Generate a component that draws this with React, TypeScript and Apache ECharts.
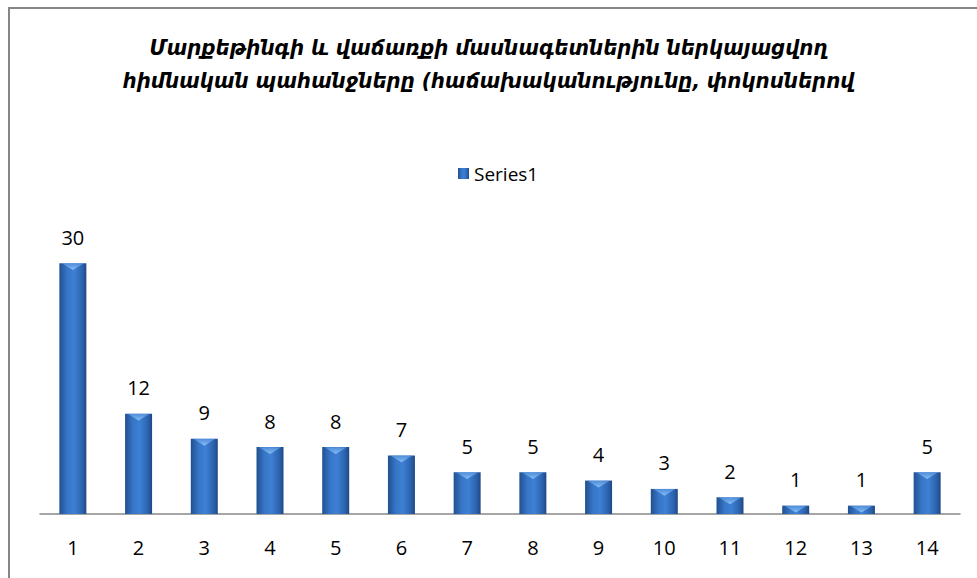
import React, { useEffect, useRef } from "react";
import * as echarts from "echarts";

const categories = ["1", "2", "3", "4", "5", "6", "7", "8", "9", "10", "11", "12", "13", "14"];
const seriesValues = [30, 12, 9, 8, 8, 7, 5, 5, 4, 3, 2, 1, 1, 5];
const seriesName = "Series1";
const titleLines = [
  "Մարքեթինգի և վաճառքի մասնագետներին ներկայացվող",
  "հիմնական պահանջները (հաճախականությունը, փոկոսներով",
];

const barGradient = new echarts.graphic.LinearGradient(0, 0, 1, 0, [
  { offset: 0, color: "#22508f" },
  { offset: 0.3, color: "#3776c8" },
  { offset: 0.55, color: "#3d80d4" },
  { offset: 0.85, color: "#2c62ad" },
  { offset: 1, color: "#1e4884" },
]);

const bevelGradient = new echarts.graphic.LinearGradient(0, 0, 0, 1, [
  { offset: 0, color: "rgba(140,195,245,0.95)" },
  { offset: 1, color: "rgba(90,150,225,0.7)" },
]);

export default function App() {
  const ref = useRef<HTMLDivElement>(null);
  useEffect(() => {
    if (!ref.current) return;
    const chart = echarts.init(ref.current, null, { renderer: "svg" });
    chart.setOption({
      animation: false,
      backgroundColor: "#ffffff",
      graphic: [
        {
          type: "rect",
          shape: { x: 9, y: 8, width: 1000, height: 1000 },
          style: { fill: "none", stroke: "#868686", lineWidth: 2 },
          silent: true,
        },
        {
          type: "text",
          left: "center",
          top: 31,
          style: {
            text: titleLines.join("\n"),
            font: "italic bold 22px 'DejaVu Sans Condensed', 'DejaVu Sans'",
            fill: "#000000",
            textAlign: "center",
            lineHeight: 33,
          },
        },
      ],
      legend: {
        data: [seriesName],
        top: 159,
        left: 453,
        itemWidth: 11,
        itemHeight: 11,
        itemGap: 5,
        icon: "rect",
        textStyle: { fontSize: 19, color: "#000", fontFamily: "'Open Sans', sans-serif" },
      },
      grid: { left: 40, right: 17, top: 213, bottom: 64 },
      xAxis: {
        type: "category",
        data: categories,
        axisLine: { lineStyle: { color: "#888888", width: 1.5 } },
        axisTick: { show: false },
        axisLabel: {
          margin: 23,
          fontSize: 20,
          color: "#000",
          fontFamily: "'Open Sans', sans-serif",
        },
      },
      yAxis: {
        type: "value",
        min: 0,
        max: 36,
        show: false,
        splitLine: { show: false },
      },
      series: [
        {
          name: seriesName,
          type: "bar",
          data: seriesValues,
          barWidth: 27,
          itemStyle: { color: barGradient },
          label: {
            show: true,
            position: "top",
            distance: 16,
            fontSize: 20,
            color: "#000",
            fontFamily: "'Open Sans', sans-serif",
          },
          z: 2,
        },
        {
          name: "bevel",
          type: "pictorialBar",
          data: seriesValues,
          symbol: "triangle",
          symbolRotate: 180,
          symbolPosition: "end",
          symbolSize: [22, 7],
          symbolOffset: [0, 0],
          itemStyle: { color: bevelGradient },
          silent: true,
          z: 3,
        },
      ],
    });
    return () => chart.dispose();
  }, []);
  return (
    <div
      ref={ref}
      style={{ position: "fixed", left: 0, top: 0, width: 977, height: 578 }}
    />
  );
}
